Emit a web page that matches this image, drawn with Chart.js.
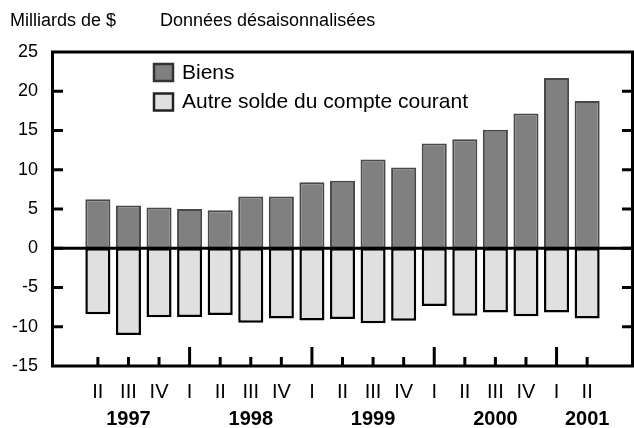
<!DOCTYPE html>
<html>
<head>
<meta charset="utf-8">
<script src="https://cdn.jsdelivr.net/npm/chart.js@4/dist/chart.umd.min.js"></script>
<style>
  html, body { margin: 0; padding: 0; background: #fff; }
  canvas { display: block; }
</style>
</head>
<body>
<canvas id="chart" width="634" height="428"></canvas>
<script>
const quarters = ['II', 'III', 'IV', 'I', 'II', 'III', 'IV', 'I', 'II', 'III', 'IV', 'I', 'II', 'III', 'IV', 'I', 'II'];
const years = ['', '1997', '', '', '', '1998', '', '', '', '1999', '', '', '', '2000', '', '', '2001'];
const biens = [6.25, 5.45, 5.2, 5.0, 4.85, 6.6, 6.6, 8.4, 8.6, 11.3, 10.3, 13.35, 13.9, 15.1, 17.15, 21.7, 18.75];
const autreSolde = [-8.4, -11.05, -8.8, -8.75, -8.5, -9.5, -8.95, -9.2, -9.0, -9.55, -9.25, -7.35, -8.6, -8.2, -8.65, -8.2, -8.95];
const yTicks = [-10, -5, 0, 5, 10, 15, 20];

const seriesNames = ['Biens', 'Autre solde du compte courant'];
const unitLabel = 'Milliards de $';
const noteLabel = 'Données désaisonnalisées';

const fontfam = '"Liberation Sans", Arial, Helvetica, sans-serif';

// one empty slot on each side, like the original
const pad = arr => [null, ...arr, null];
const padText = arr => ['', ...arr, ''];

const line = (ctx, x1, y1, x2, y2) => {
    ctx.beginPath();
    ctx.moveTo(x1, y1);
    ctx.lineTo(x2, y2);
    ctx.stroke();
};

const decorations = {
    id: 'decorations',
    afterDatasetsDraw(chart) {
        const {ctx, chartArea: a, scales: {x, y}} = chart;
        ctx.save();
        ctx.strokeStyle = '#000';
        ctx.lineWidth = 3;
        ctx.strokeRect(a.left + 0.5, a.top, a.right - a.left - 1, a.bottom - a.top);
        const y0 = y.getPixelForValue(0);
        line(ctx, a.left, y0, a.right, y0);
        for(const v of yTicks) {
            const py = y.getPixelForValue(v);
            line(ctx, a.left, py, a.left + 11, py);
            line(ctx, a.right - 11, py, a.right, py);
        }
        quarters.forEach((q, i) => {
            const px = x.getPixelForValue(i + 1);
            const len = q === 'I' ? 19 : 9;
            line(ctx, px, a.bottom, px, a.bottom - len);
        });
        ctx.restore();
    },
    afterDraw(chart) {
        const {ctx} = chart;
        ctx.save();
        ctx.fillStyle = '#000';
        ctx.textBaseline = 'alphabetic';
        ctx.font = `18px ${fontfam}`;
        ctx.fillText(unitLabel, 10, 26);
        ctx.fillText(noteLabel, 160, 26);

        // legend
        const ds = chart.data.datasets;
        ds.forEach((d, i) => {
            const top = 64 + i * 29.5;
            ctx.fillStyle = d.backgroundColor;
            ctx.fillRect(154, top, 19, 17);
            ctx.strokeStyle = i === 0 ? '#333' : '#222';
            ctx.lineWidth = 2.5;
            ctx.strokeRect(154, top, 19, 17);
            ctx.fillStyle = '#000';
            ctx.font = `21px ${fontfam}`;
            ctx.textBaseline = 'middle';
            ctx.fillText(d.label, 182, top + 9);
        });
        ctx.restore();
    }
};

new Chart(document.getElementById('chart'), {
    type: 'bar',
    data: {
        labels: padText(quarters),
        datasets: [
            {
                label: seriesNames[0],
                data: pad(biens),
                backgroundColor: '#808080',
                borderColor: '#484848',
                borderWidth: 2,
                borderSkipped: false,
                xAxisID: 'x'
            },
            {
                label: seriesNames[1],
                data: pad(autreSolde),
                backgroundColor: '#e0e0e0',
                borderColor: '#000',
                borderWidth: 2.5,
                borderSkipped: false,
                xAxisID: 'x'
            }
        ]
    },
    options: {
        responsive: false,
        animation: false,
        layout: { padding: { top: 52, right: 1, left: 0, bottom: 0 } },
        datasets: { bar: { barPercentage: 0.82, categoryPercentage: 1 } },
        plugins: {
            legend: { display: false },
            tooltip: { enabled: false }
        },
        scales: {
            x: {
                stacked: true,
                offset: true,
                weight: 0,
                grid: { display: false, drawTicks: false },
                border: { display: false },
                ticks: {
                    autoSkip: false, maxRotation: 0, padding: 14,
                    color: '#000', font: { family: fontfam, size: 20 }
                },
                afterFit: s => { s.height = 34; }
            },
            x2: {
                type: 'category',
                labels: padText(years),
                position: 'bottom',
                offset: true,
                weight: 1,
                grid: { display: false, drawTicks: false },
                border: { display: false },
                ticks: {
                    autoSkip: false, maxRotation: 0, padding: 7,
                    color: '#000', font: { family: fontfam, size: 20, weight: 'bold' }
                },
                afterFit: s => { s.height = 28; }
            },
            y: {
                stacked: true,
                min: -15,
                max: 25,
                grid: { display: false, drawTicks: false },
                border: { display: false },
                ticks: {
                    stepSize: 5, padding: 14,
                    color: '#000', font: { family: fontfam, size: 18 }
                },
                afterFit: s => { s.width = 52; }
            }
        }
    },
    plugins: [decorations]
});
</script>
</body>
</html>
